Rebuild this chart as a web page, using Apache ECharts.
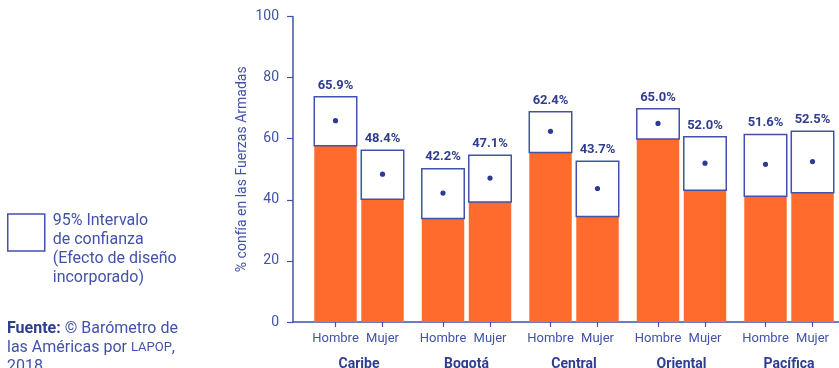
<!DOCTYPE html>
<html>
<head>
<meta charset="utf-8">
<script src="https://cdn.jsdelivr.net/npm/echarts@6/dist/echarts.min.js"></script>
<style>
html,body{margin:0;padding:0;background:#fff;}
#chart{width:839px;height:368px;}
</style>
</head>
<body>
<div id="chart"></div>
<script>
const regions = ['Caribe', 'Bogotá', 'Central', 'Oriental', 'Pacífica'];
const genders = ['Hombre', 'Mujer'];
const estHombre = [65.9, 42.2, 62.4, 65.0, 51.6];
const estMujer = [48.4, 47.1, 43.7, 52.0, 52.5];
const lowHombre = [57.7, 33.9, 55.5, 59.9, 41.2];
const highHombre = [73.7, 50.2, 68.8, 69.8, 61.4];
const lowMujer = [40.2, 39.3, 34.5, 43.1, 42.3];
const highMujer = [56.2, 54.6, 52.6, 60.6, 62.4];
const yTicks = [0, 20, 40, 60, 80, 100];

const ciName = '95% Intervalo\nde confianza\n(Efecto de diseño\nincorporado)';
const TXT = '#4252AA';
const BOLD = '#2F3D8E';
const ORANGE = '#FF6B2C';
const NAVY = '#4252AA';
const DOT = '#2E3B94';
const FONT = 'Roboto, "Noto Sans", sans-serif';

// layout in group units: bar centres offset from group centre, bar width
const OFF = 0.2186;
const BARW = 0.395;

const rows = [];
regions.forEach((r, i) => {
  rows.push([i, 0, lowHombre[i], highHombre[i], estHombre[i]]);
  rows.push([i, 1, lowMujer[i], highMujer[i], estMujer[i]]);
});
const tickPos = [];
regions.forEach((r, i) => { tickPos.push(i - OFF, i + OFF); });

function barCx(api, g, side) {
  const unit = api.size([1, 0])[0];
  return api.coord([g, 0])[0] + (side ? 1 : -1) * OFF * unit;
}

const chart = echarts.init(document.getElementById('chart'), null, {renderer: 'canvas'});
chart.setOption({
  animation: false,
  textStyle: {fontFamily: FONT},
  grid: {left: 293, right: 0, top: 16.5, bottom: 46, containLabel: false, outerBoundsMode: 'none'},
  legend: {
    data: [{name: ciName, icon: 'rect'}],
    orient: 'vertical',
    left: 7,
    top: 178,
    padding: 0,
    itemWidth: 37,
    itemHeight: 37,
    itemStyle: {color: '#fff', borderColor: NAVY, borderWidth: 1.5},
    formatter: function (name) { return '{sp|}\n' + name; },
    textStyle: {
      fontSize: 16, lineHeight: 19, color: TXT, fontFamily: FONT, padding: [0, 0, 0, 3],
      rich: {sp: {lineHeight: 33, fontSize: 16}}
    },
    selectedMode: false
  },
  xAxis: [{
    type: 'value',
    min: -0.614,
    max: 4.465,
    axisLine: {show: true, onZero: false, lineStyle: {color: NAVY, width: 1.5}},
    axisTick: {show: true, customValues: tickPos, length: 5, lineStyle: {color: NAVY, width: 1.2}},
    axisLabel: {
      customValues: tickPos,
      fontSize: 13, color: TXT, margin: 10, fontFamily: FONT,
      formatter: function (v) { return Math.round(v) > v ? genders[0] : genders[1]; }
    },
    splitLine: {show: false}
  }, {
    type: 'value',
    position: 'bottom',
    min: -0.614,
    max: 4.465,
    axisLine: {show: false, onZero: false},
    axisTick: {show: false},
    axisLabel: {
      customValues: regions.map((r, i) => i),
      fontSize: 14, fontWeight: 'bold', color: BOLD, margin: 35, fontFamily: FONT,
      formatter: function (v) { return regions[Math.round(v)]; }
    },
    splitLine: {show: false}
  }],
  yAxis: {
    type: 'value',
    min: yTicks[0],
    max: yTicks[yTicks.length - 1],
    interval: 20,
    name: '% confía en las Fuerzas Armadas',
    nameLocation: 'middle',
    nameGap: 44,
    nameMoveOverlap: false,
    nameTextStyle: {fontSize: 14, color: TXT, fontFamily: FONT},
    axisLine: {show: true, onZero: false, lineStyle: {color: NAVY, width: 1.5}},
    axisTick: {show: true, length: 6, lineStyle: {color: NAVY, width: 1.2}},
    axisLabel: {fontSize: 14, color: TXT, margin: 14, fontFamily: FONT},
    splitLine: {show: false}
  },
  series: [{
    type: 'custom',
    name: 'base',
    xAxisIndex: 0,
    data: rows,
    encode: {x: 0, y: 2},
    renderItem: function (params, api) {
      const g = api.value(0), side = api.value(1), low = api.value(2);
      const unit = api.size([1, 0])[0];
      const w = BARW * unit;
      const cx = barCx(api, g, side);
      const y0 = api.coord([g, 0])[1];
      const y1 = api.coord([g, low])[1];
      return {type: 'rect', shape: {x: cx - w / 2, y: y1, width: w, height: y0 - y1}, style: {fill: ORANGE}};
    }
  }, {
    type: 'custom',
    name: ciName,
    xAxisIndex: 0,
    data: rows,
    encode: {x: 0, y: [2, 3, 4]},
    itemStyle: {color: '#fff', borderColor: NAVY, borderWidth: 1.5},
    renderItem: function (params, api) {
      const g = api.value(0), side = api.value(1);
      const low = api.value(2), high = api.value(3), est = api.value(4);
      const unit = api.size([1, 0])[0];
      const w = BARW * unit;
      const cx = barCx(api, g, side);
      const yl = api.coord([g, low])[1];
      const yh = api.coord([g, high])[1];
      const ye = api.coord([g, est])[1];
      return {
        type: 'group',
        children: [
          {type: 'rect', shape: {x: cx - w / 2, y: yh, width: w, height: yl - yh},
           style: {fill: '#fff', stroke: NAVY, lineWidth: 1.5}},
          {type: 'circle', shape: {cx: cx, cy: ye, r: 2.6}, style: {fill: DOT}},
          {type: 'text', x: cx, y: yh - 5,
           style: {text: est.toFixed(1) + '%', fill: BOLD, font: 'bold 13px ' + FONT,
                   textAlign: 'center', textVerticalAlign: 'bottom'}}
        ]
      };
    }
  }],
  graphic: [{
    type: 'text',
    left: 7,
    top: 319,
    style: {
      text: '{b|Fuente:} © Barómetro de\nlas Américas por {s|LAPOP},\n2018',
      fill: TXT,
      font: '16px ' + FONT,
      lineHeight: 19,
      rich: {
        b: {fontWeight: 'bold', fontSize: 16, fill: BOLD, lineHeight: 19, fontFamily: FONT},
        s: {fontSize: 13, fill: TXT, lineHeight: 19, fontFamily: FONT}
      }
    }
  }]
});
</script>
</body>
</html>
